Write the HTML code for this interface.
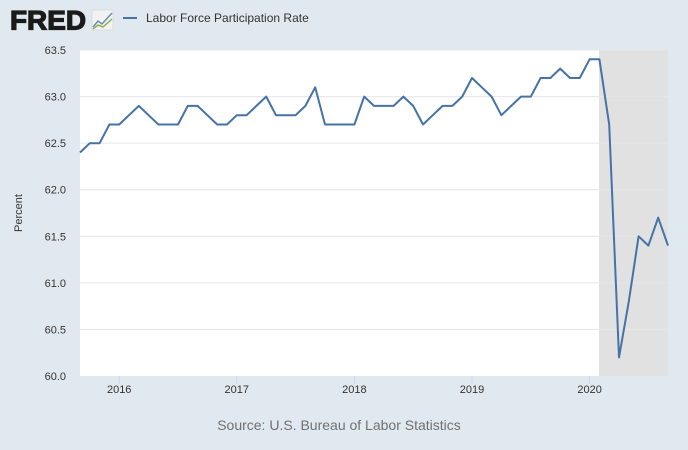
<!DOCTYPE html>
<html><head><meta charset="utf-8"><style>
body{margin:0;width:688px;height:450px;background:#e1e9f0;font-family:"Liberation Sans",sans-serif;overflow:hidden}
</style></head><body>
<svg width="688" height="450" xmlns="http://www.w3.org/2000/svg" style="position:absolute;left:0;top:0">
<text x="10" y="29.5" font-family="Liberation Sans" font-weight="bold" font-size="27" fill="#1a1a1a" stroke="#1a1a1a" stroke-width="1.2" textLength="76" lengthAdjust="spacingAndGlyphs">FRED</text>
<rect x="92" y="10" width="21" height="20" fill="#f2f2f2" stroke="#ccc" stroke-width="0.5"/>
<polyline points="93,27 98,21 102,24 112,13" fill="none" stroke="#6b8fb5" stroke-width="1.5"/>
<polyline points="93,29 98,25 103,27 112,19" fill="none" stroke="#8fb04a" stroke-width="1.5"/>
<line x1="123" y1="18" x2="137" y2="18" stroke="#4572a7" stroke-width="2"/>
<text x="146" y="22" font-size="12" fill="#333">Labor Force Participation Rate</text>
<rect x="80" y="50" width="588" height="326" fill="#fff"/>
<rect x="599" y="50" width="69" height="326" fill="#e1e1e1"/>
<g id="grid" stroke="#e6e6e6" stroke-width="1"></g>
<g id="yl" font-size="11" fill="#333" text-anchor="end"></g>
<g id="xl" font-size="11" fill="#333" text-anchor="middle"></g>
<polyline id="ln" fill="none" stroke="#4572a7" stroke-width="2" stroke-linejoin="round"/>
<text transform="translate(22,213) rotate(-90)" font-size="11" fill="#333" text-anchor="middle">Percent</text>
<text x="339" y="430" font-size="14" fill="#707070" text-anchor="middle">Source: U.S. Bureau of Labor Statistics</text>
</svg>
<script>
var d=[62.4,62.5,62.5,62.7,
62.7,62.8,62.9,62.8,62.7,62.7,62.7,62.9,62.9,62.8,62.7,62.7,
62.8,62.8,62.9,63.0,62.8,62.8,62.8,62.9,63.1,62.7,62.7,62.7,
62.7,63.0,62.9,62.9,62.9,63.0,62.9,62.7,62.8,62.9,62.9,63.0,
63.2,63.1,63.0,62.8,62.9,63.0,63.0,63.2,63.2,63.3,63.2,63.2,
63.4,63.4,62.7,60.2,60.8,61.5,61.4,61.7,61.4];
function Y(v){return 376-(v-60)*93.14}
var p=d.map(function(v,i){return (80+i*9.8).toFixed(1)+","+Y(v).toFixed(1)}).join(" ");
document.getElementById("ln").setAttribute("points",p);
var ns="http://www.w3.org/2000/svg",g=document.getElementById("grid"),yl=document.getElementById("yl"),xl=document.getElementById("xl");
for(var v=60;v<=63.5;v+=0.5){var y=Y(v);
if(v>60){var l=document.createElementNS(ns,"line");l.setAttribute("x1",80);l.setAttribute("x2",668);l.setAttribute("y1",y);l.setAttribute("y2",y);g.appendChild(l);}
var t=document.createElementNS(ns,"text");t.setAttribute("x",66);t.setAttribute("y",y+4);t.textContent=v.toFixed(1);yl.appendChild(t);}
for(var k=0;k<5;k++){var x=80+(4+12*k)*9.8;var t=document.createElementNS(ns,"text");t.setAttribute("x",x);t.setAttribute("y",393);t.textContent=2016+k;xl.appendChild(t);
var l=document.createElementNS(ns,"line");l.setAttribute("x1",x);l.setAttribute("x2",x);l.setAttribute("y1",376);l.setAttribute("y2",384);l.setAttribute("stroke","#ccd6eb");xl.appendChild(l);}
</script>
</body></html>
